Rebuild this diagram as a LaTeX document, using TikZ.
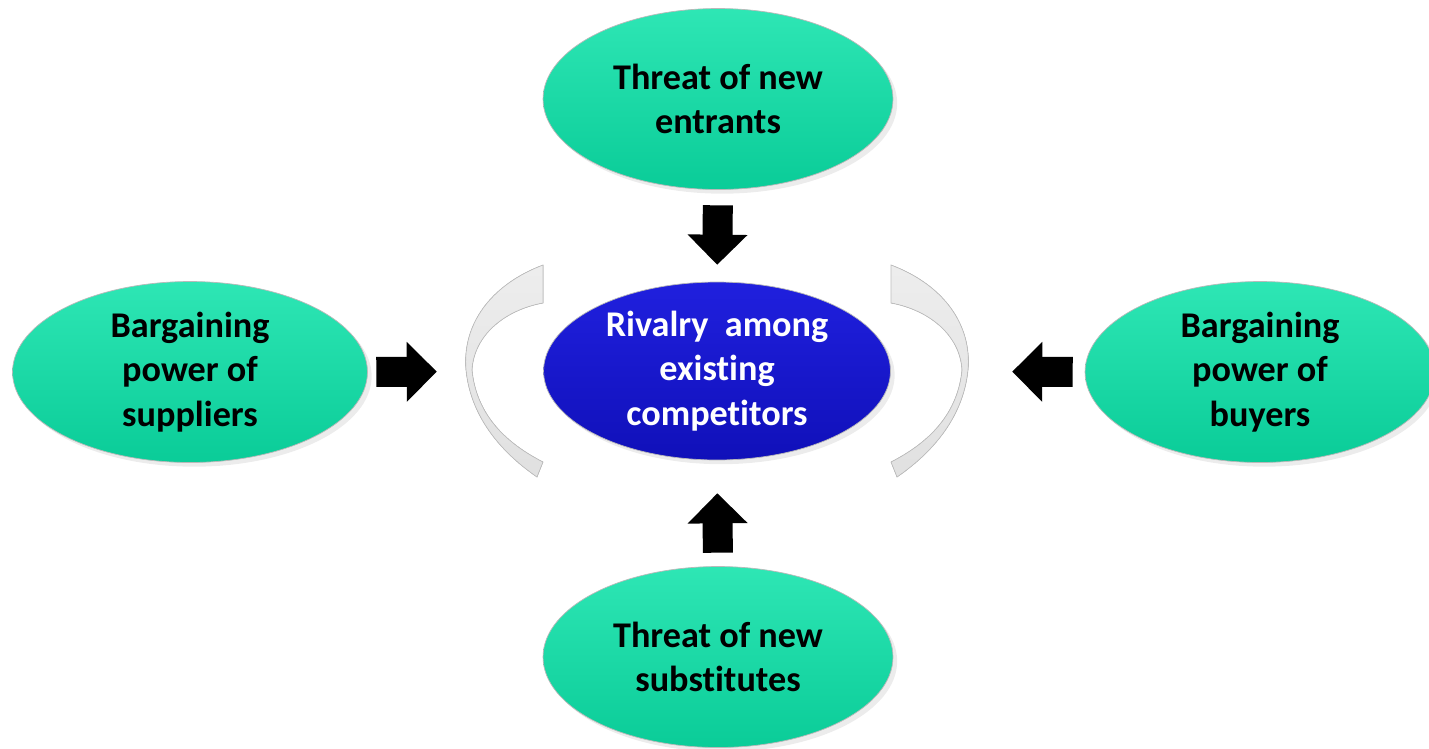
\documentclass[tikz,border=0pt]{standalone}
\usepackage{fontspec}
\setmainfont[Ligatures=NoCommon]{Carlito}
\usepackage{xcolor}
\usetikzlibrary{shapes.geometric,shadows,arrows.meta}
\definecolor{forcegreen}{RGB}{28,228,174}
\definecolor{forcegreendark}{RGB}{10,204,152}
\definecolor{rivalblue}{RGB}{32,32,222}
\definecolor{rivalbluedark}{RGB}{16,16,185}
\tikzset{
    force-oval/.style = {ellipse, draw=gray!55, top color=forcegreen!92!white, bottom color=forcegreendark, minimum width=7cm, minimum height=3.62cm, inner sep=0pt, align=center, font=\fontsize{20.6}{25.5}\selectfont\bfseries, drop shadow={opacity=0.15}},
    rival-oval/.style = {force-oval, top color=rivalblue, bottom color=rivalbluedark, text=white, minimum width=6.94cm, minimum height=3.56cm},
    block-arrow/.style = {line width=0.6cm, line cap=rect, -{Triangle[length=0.6cm, width=1.2cm, line width=0pt]}},
    pics/rim/.style = {code={
        \filldraw[draw=gray!50, top color=gray!14, bottom color=gray!24, thin]
            (-174,-106) .. controls (-227,-86) and (-255,-46) .. (-251,-1)
            .. controls (-246,49) and (-212,84) .. (-180,106) -- (-174,91)
            .. controls (-217,69) and (-241,39) .. (-245,-1)
            .. controls (-243,-36) and (-212,-61) .. (-174,-68) -- cycle;
    }},
}

\begin{document}
\begin{tikzpicture}[x=0.02cm, y=-0.02cm]
\useasboundingbox (0,0) rectangle (1429,748);
\node[rival-oval] (rivalry) at (717,371) {Rivalry\ \ among\\existing\\competitors};
\node[force-oval] (entrants) at (718,99) {Threat of new\\entrants};
\node[force-oval, minimum width=7.1cm] (suppliers) at (190,372) {Bargaining\\power of\\suppliers};
\node[force-oval] (buyers) at (1260,372) {Bargaining\\power of\\buyers};
\node[force-oval] (substitutes) at (718,657) {Threat of new\\substitutes};
\pic at (rivalry.center) {rim};
\pic[xscale=-1] at (rivalry.center) {rim};
\draw[block-arrow, shorten <=0.61cm, shorten >=0.34cm] (entrants.south) -- (rivalry.north);
\draw[block-arrow, shorten <=0.57cm, shorten >=0.66cm] (substitutes.north) -- (rivalry.south);
\draw[block-arrow, shorten <=0.47cm, shorten >=2.13cm] (suppliers.east) -- (rivalry.west);
\draw[block-arrow, shorten <=0.54cm, shorten >=2.43cm] (buyers.west) -- (rivalry.east);
\end{tikzpicture}
\end{document}
